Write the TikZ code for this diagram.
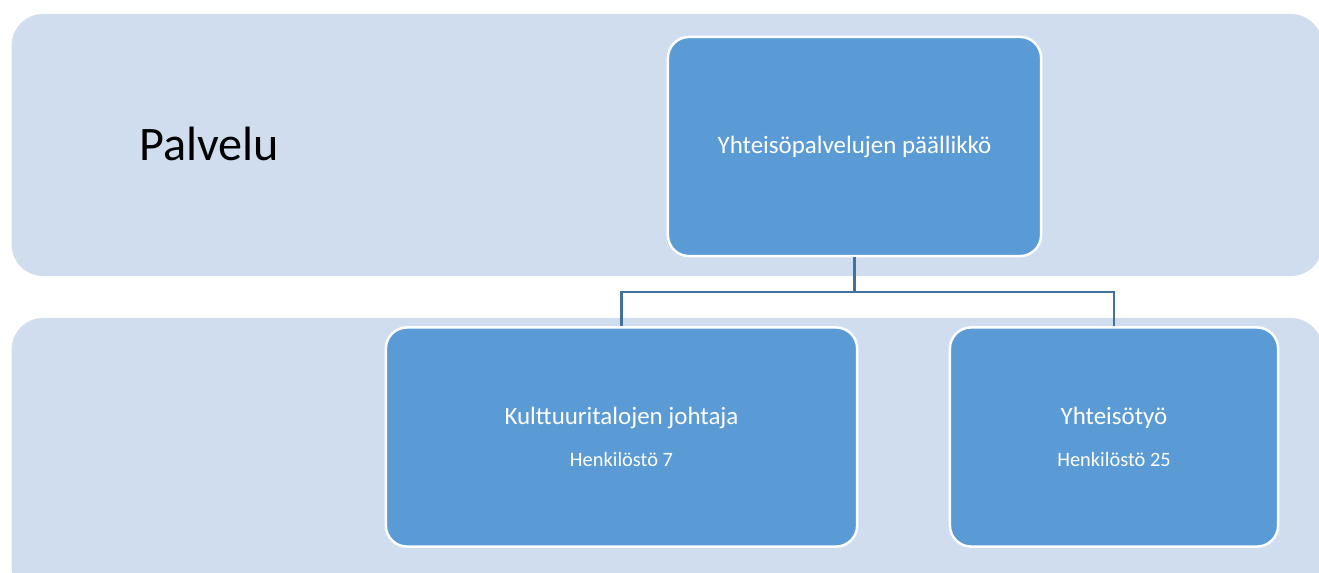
\documentclass[tikz,border=0pt]{standalone}
\usepackage{fontspec}
\setmainfont{Carlito}
\definecolor{bandblue}{RGB}{208,221,238}
\definecolor{boxblue}{RGB}{91,155,213}
\definecolor{lineblue}{RGB}{65,113,156}
\tikzset{
  band/.style={fill=bandblue, rounded corners=9pt, minimum width=13.1cm, inner sep=0pt},
  unit/.style={fill=boxblue, draw=white, line width=0.7pt, rounded corners=6pt,
               minimum height=2.19cm, text=white, align=center, inner sep=0pt},
  link/.style={draw=lineblue, line width=0.65pt}
}
\begin{document}
\begin{tikzpicture}[x=0.01cm, y=-0.01cm]
      \useasboundingbox (0,0) rectangle (1319,572);

      \node[band, minimum height=2.62cm] (topband) at (667,145) {};
      \node[band, minimum height=2.80cm] (lowband) at (667,458) {};

      \node[font=\fontsize{13.7}{16}\selectfont] (palvelu) at (209,144) {Palvelu};

      \begin{scope}[every node/.style={unit}]
        \node[minimum width=3.73cm] (head) at (854.5,146.5)
          {\fontsize{7.1}{8}\selectfont Yhteisöpalvelujen päällikkö};
        \node[minimum width=4.71cm] (kulttuuri) at (621.5,437)
          {\fontsize{7.1}{9.4}\selectfont Kulttuuritalojen johtaja\\
           \fontsize{5.8}{9.4}\selectfont Henkilöstö 7};
        \node[minimum width=3.28cm] (yhteiso) at (1114,437)
          {\fontsize{7.1}{9.4}\selectfont Yhteisötyö\\
           \fontsize{5.8}{9.4}\selectfont Henkilöstö 25};
      \end{scope}

      \coordinate (split) at (854.5,292);
      \path[link] (head.south) -- (split) -| (kulttuuri.north);
      \path[link] (split) -| (yhteiso.north);

\end{tikzpicture}
\end{document}
